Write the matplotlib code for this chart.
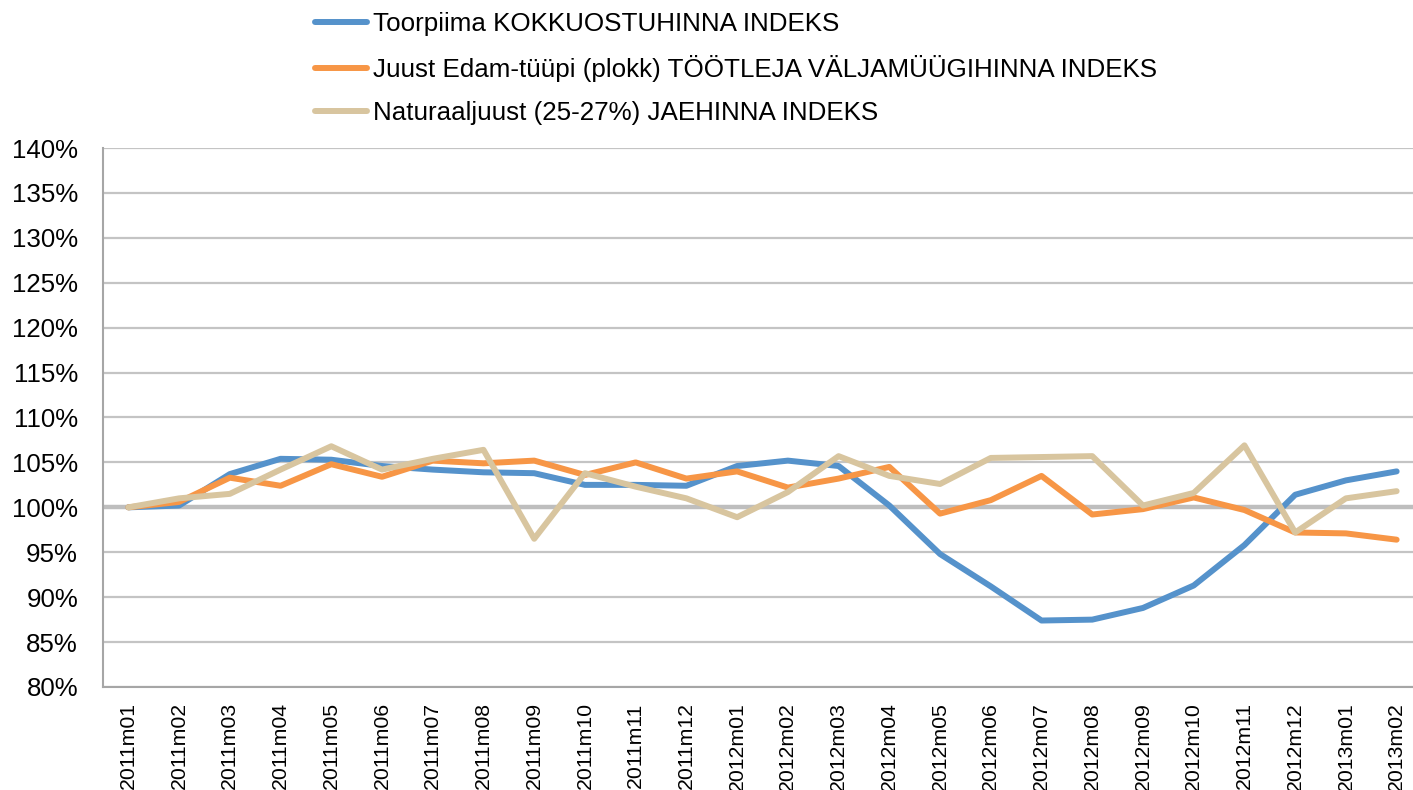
import matplotlib
matplotlib.use("Agg")
import matplotlib.pyplot as plt
from matplotlib.ticker import FuncFormatter, MultipleLocator

plt.rcParams['font.family'] = ['Liberation Sans', 'DejaVu Sans']

months = ["2011m01", "2011m02", "2011m03", "2011m04", "2011m05", "2011m06", "2011m07",
          "2011m08", "2011m09", "2011m10", "2011m11", "2011m12",
          "2012m01", "2012m02", "2012m03", "2012m04", "2012m05", "2012m06", "2012m07",
          "2012m08", "2012m09", "2012m10", "2012m11", "2012m12", "2013m01", "2013m02"]

toorpiima = [100.0, 100.2, 103.7, 105.4, 105.3, 104.6, 104.2, 103.9, 103.8, 102.5, 102.5, 102.4,
             104.6, 105.2, 104.6, 100.2, 94.8, 91.2, 87.4, 87.5, 88.8, 91.3, 95.8, 101.4, 103.0, 104.0]
juust = [100.0, 100.6, 103.3, 102.4, 104.8, 103.4, 105.2, 104.9, 105.2, 103.6, 105.0, 103.2,
         104.0, 102.2, 103.2, 104.5, 99.3, 100.8, 103.5, 99.2, 99.8, 101.1, 99.7, 97.2, 97.1, 96.4]
naturaal = [100.0, 101.0, 101.5, 104.2, 106.8, 104.2, 105.4, 106.4, 96.5, 103.8, 102.3, 101.0,
            98.9, 101.7, 105.7, 103.5, 102.6, 105.5, 105.6, 105.7, 100.2, 101.6, 106.9, 97.2, 101.0, 101.8]

labels = ["Toorpiima KOKKUOSTUHINNA INDEKS",
          "Juust Edam-tüüpi (plokk) TÖÖTLEJA VÄLJAMÜÜGIHINNA INDEKS",
          "Naturaaljuust (25-27%) JAEHINNA INDEKS"]
colors = ["#5592CB", "#F79646", "#D8C59F"]

fig = plt.figure(figsize=(14.13, 7.90), dpi=100)
ax = fig.add_axes([103 / 1413, 103 / 790, (1422 - 103) / 1413, (687 - 148) / 790])

x = list(range(len(months)))
for series, lab, col in zip([toorpiima, juust, naturaal], labels, colors):
    ax.plot(x, series, color=col, lw=4.3, label=lab, solid_joinstyle='round',
            solid_capstyle='round', zorder=3)

ax.set_ylim(80, 140)
ax.set_xlim(-0.5, len(months) - 0.5)
ax.yaxis.set_major_locator(MultipleLocator(5))
ax.yaxis.set_major_formatter(FuncFormatter(lambda v, p: f"{v:.0f}%"))
ax.grid(axis='y', color='#C4C4C4', lw=1.6, zorder=1)
ax.axhline(100, color='#BEBEBE', lw=3.2, zorder=2)
ax.set_xticks(x)
ax.set_xticklabels(months, rotation=90, fontsize=15.3)
ax.tick_params(axis='y', labelsize=18.6, length=0, pad=18)
ax.tick_params(axis='x', length=0, pad=11)
for s in ['top', 'right']:
    ax.spines[s].set_visible(False)
ax.spines['left'].set_color('#A6A6A6')
ax.spines['bottom'].set_color('#A6A6A6')
ax.spines['left'].set_linewidth(1.5)
ax.spines['bottom'].set_linewidth(1.5)

h, l = ax.get_legend_handles_labels()
leg = fig.legend(h, l, loc='upper left', bbox_to_anchor=(305 / 1413, 1 - 2 / 790),
                 frameon=False, fontsize=18.7, handlelength=2.0, handletextpad=0.2,
                 labelspacing=0.73, borderaxespad=0)

fig.savefig("out.png", dpi=100)
